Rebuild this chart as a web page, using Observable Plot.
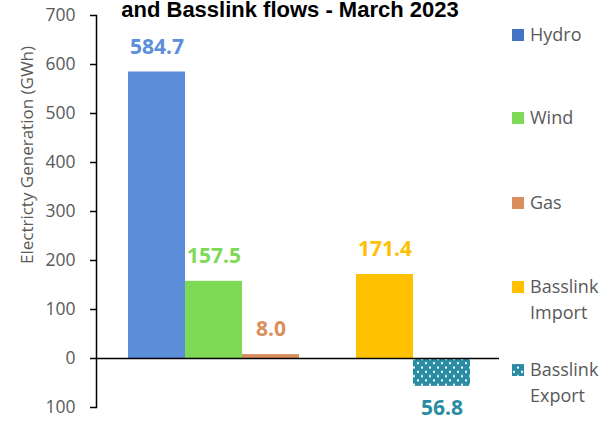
<!DOCTYPE html>
<html><head><meta charset="utf-8">
<script src="https://cdn.jsdelivr.net/npm/d3@7"></script>
<script src="https://cdn.jsdelivr.net/npm/@observablehq/plot@0.6"></script>
<style>
html,body{margin:0;padding:0;background:#fff;}
#chart{position:relative;width:615px;height:421px;}
</style>
</head><body><div id="chart"></div>
<script>
const titleText = "and Basslink flows - March 2023";
const yLabel = "Electricty Generation (GWh)";
const categories = ["Hydro", "Wind", "Gas", "Basslink Import", "Basslink Export"];
const values = [584.7, 157.5, 8.0, 171.4, -56.8];
const barColors = ["#5B8DD9", "#7ED957", "#D98F5C", "#FFC000", "url(#dots)"];
const labelColors = ["#5B8EDB", "#7ED957", "#D98F5C", "#FFC000", "#2A8CA3"];
const legendColors = ["#4472C4", "#7ED957", "#D98F5C", "#FFC000", "url(#dots)"];
const legendLines = [["Hydro"], ["Wind"], ["Gas"], ["Basslink", "Import"], ["Basslink", "Export"]];
const slots = ["Hydro", "Wind", "Gas", "", "Basslink Import", "Basslink Export"];
const yTicks = [-100, 0, 100, 200, 300, 400, 500, 600, 700];

const data = categories.map((c, i) => ({cat: c, value: values[i], fill: barColors[i], lab: labelColors[i]}));
const font = "'Open Sans', sans-serif";

(function(){
  const chart = Plot.plot({
    width: 615, height: 421,
    marginLeft: 96, marginRight: 116, marginTop: 15, marginBottom: 14,
    style: {fontFamily: font, background: "#fff", overflow: "visible"},
    x: {domain: slots, range: [126, 471], padding: 0, axis: null},
    y: {domain: [-100, 700], label: null, axis: null},
    marks: [
      Plot.barY(data, {x: "cat", y: "value", fill: d => d.fill}),
      Plot.axisY({ticks: yTicks, tickFormat: d => String(Math.abs(d)), tickSize: 6, tickPadding: 15, fontSize: 17.5, color: "#595959", stroke: "#000", label: null}),
      Plot.frame({anchor: "left", stroke: "#000", strokeWidth: 1.5}),
      Plot.ruleY([0], {stroke: "#000", strokeWidth: 1.5}),
      Plot.text(data.filter(d => d.value >= 0), {x: "cat", y: "value", text: d => d.value.toFixed(1), fill: d => d.lab, dy: -25, fontWeight: "bold", fontSize: 21}),
      Plot.text(data.filter(d => d.value < 0), {x: "cat", y: "value", text: d => Math.abs(d.value).toFixed(1), fill: d => d.lab, dy: 22, fontWeight: "bold", fontSize: 21})
    ]
  });
  const svg = d3.select(chart);
  svg.selectAll("[aria-label='y-axis tick'] path").attr("stroke", "#000").attr("stroke-width", 1.5);
  svg.selectAll("[aria-label='y-axis tick label'] text").attr("fill", "#595959");
  const defs = svg.insert("defs", ":first-child");
  const p = defs.append("pattern").attr("id", "dots").attr("patternUnits", "userSpaceOnUse")
    .attr("width", 8).attr("height", 8.6);
  p.append("rect").attr("width", 8).attr("height", 8.6).attr("fill", "#2A8CA3");
  p.append("rect").attr("x", 1).attr("y", 1).attr("width", 2).attr("height", 2).attr("fill", "#fff");
  p.append("rect").attr("x", 5).attr("y", 5.3).attr("width", 2).attr("height", 2).attr("fill", "#fff");

  // title (top line of a two-line title, partly outside the picture in the reference)
  svg.append("text").attr("x", 290).attr("y", 17).attr("text-anchor", "middle")
    .attr("font-family", "'Liberation Sans', Arial, sans-serif").attr("font-weight", "bold")
    .attr("font-size", 22).attr("fill", "#000").text(titleText);
  // y label
  svg.append("text").attr("transform", "translate(27,155) rotate(-90)").attr("text-anchor", "middle")
    .attr("dy", "0.35em")
    .attr("font-family", font).attr("font-size", 17).attr("fill", "#595959").text(yLabel);
  // legend
  const legY = [35, 118, 203, 287, 370];
  const lg = svg.append("g").attr("font-family", font).attr("font-size", 18).attr("fill", "#595959").attr("text-anchor", "start");
  legendLines.forEach((lines, i) => {
    lg.append("rect").attr("x", 512).attr("y", legY[i] - 6).attr("width", 12).attr("height", 12).attr("fill", legendColors[i]);
    lines.forEach((t, j) => {
      lg.append("text").attr("x", 530).attr("y", legY[i] + j * 25.5).attr("dy", "0.35em").attr("text-anchor", "start").text(t);
    });
  });
  document.getElementById("chart").appendChild(chart);
})();
</script>
</body></html>
